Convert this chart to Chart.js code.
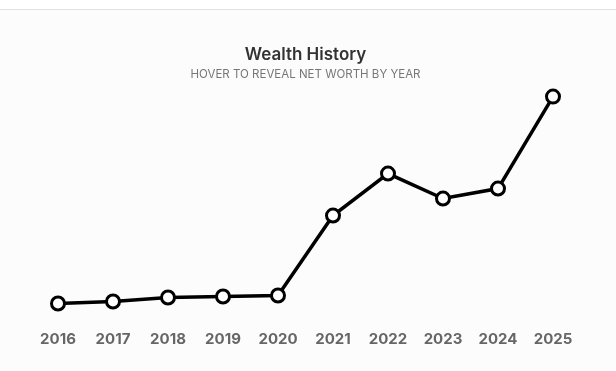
<!DOCTYPE html>
<html>
<head>
<meta charset="utf-8">
<script src="https://cdn.jsdelivr.net/npm/chart.js@4.4.1/dist/chart.umd.min.js"></script>
<style>
  html, body { margin: 0; padding: 0; background: #fff; }
  .card { position: absolute; top: 9px; left: 0; width: 616px; height: 362px; border-top: 1px solid #e2e2e2; background: #fcfcfc; }
  canvas { display: block; }
</style>
</head>
<body>
<div class="card"><canvas id="wealthChart" width="616" height="361"></canvas></div>
<script>
const years = ['2016', '2017', '2018', '2019', '2020', '2021', '2022', '2023', '2024', '2025'];
// net worth in USD
const netWorth = [10000, 12000, 16000, 17000, 18000, 98000, 140000, 115000, 125000, 217000];

document.addEventListener('DOMContentLoaded', function() {
    const ctx = document.getElementById('wealthChart').getContext('2d');
    new Chart(ctx, {
        type: 'line',
        data: {
            labels: years,
            datasets: [{
                label: 'Net worth',
                data: netWorth,
                borderColor: '#000',
                borderWidth: 3.5,
                pointBackgroundColor: '#fff',
                pointBorderColor: '#000',
                pointBorderWidth: 3,
                pointRadius: 6.5,
                pointHoverRadius: 8,
                tension: 0,
                clip: false
            }]
        },
        options: {
            responsive: false,
            animation: false,
            layout: { padding: { left: 58, right: 63, top: 35, bottom: 11 } },
            plugins: {
                legend: { display: false },
                title: {
                    display: true,
                    text: 'Wealth History',
                    color: '#333',
                    font: { family: 'Inter', size: 17, weight: '600' },
                    padding: { top: 0, bottom: 2 }
                },
                subtitle: {
                    display: true,
                    text: 'HOVER TO REVEAL NET WORTH BY YEAR',
                    color: '#777',
                    font: { family: 'Inter', size: 11.5 },
                    padding: { bottom: 10 }
                },
                tooltip: {
                    callbacks: {
                        label: function(context) {
                            return '$' + context.parsed.y.toLocaleString();
                        }
                    }
                }
            },
            scales: {
                x: {
                    offset: false,
                    grid: { display: false },
                    border: { display: false },
                    ticks: {
                        color: '#666',
                        padding: 12,
                        font: { family: 'Inter', size: 15, weight: '700' }
                    }
                },
                y: {
                    display: false,
                    min: 3500,
                    max: 222400
                }
            }
        }
    });
});
</script>
</body>
</html>
